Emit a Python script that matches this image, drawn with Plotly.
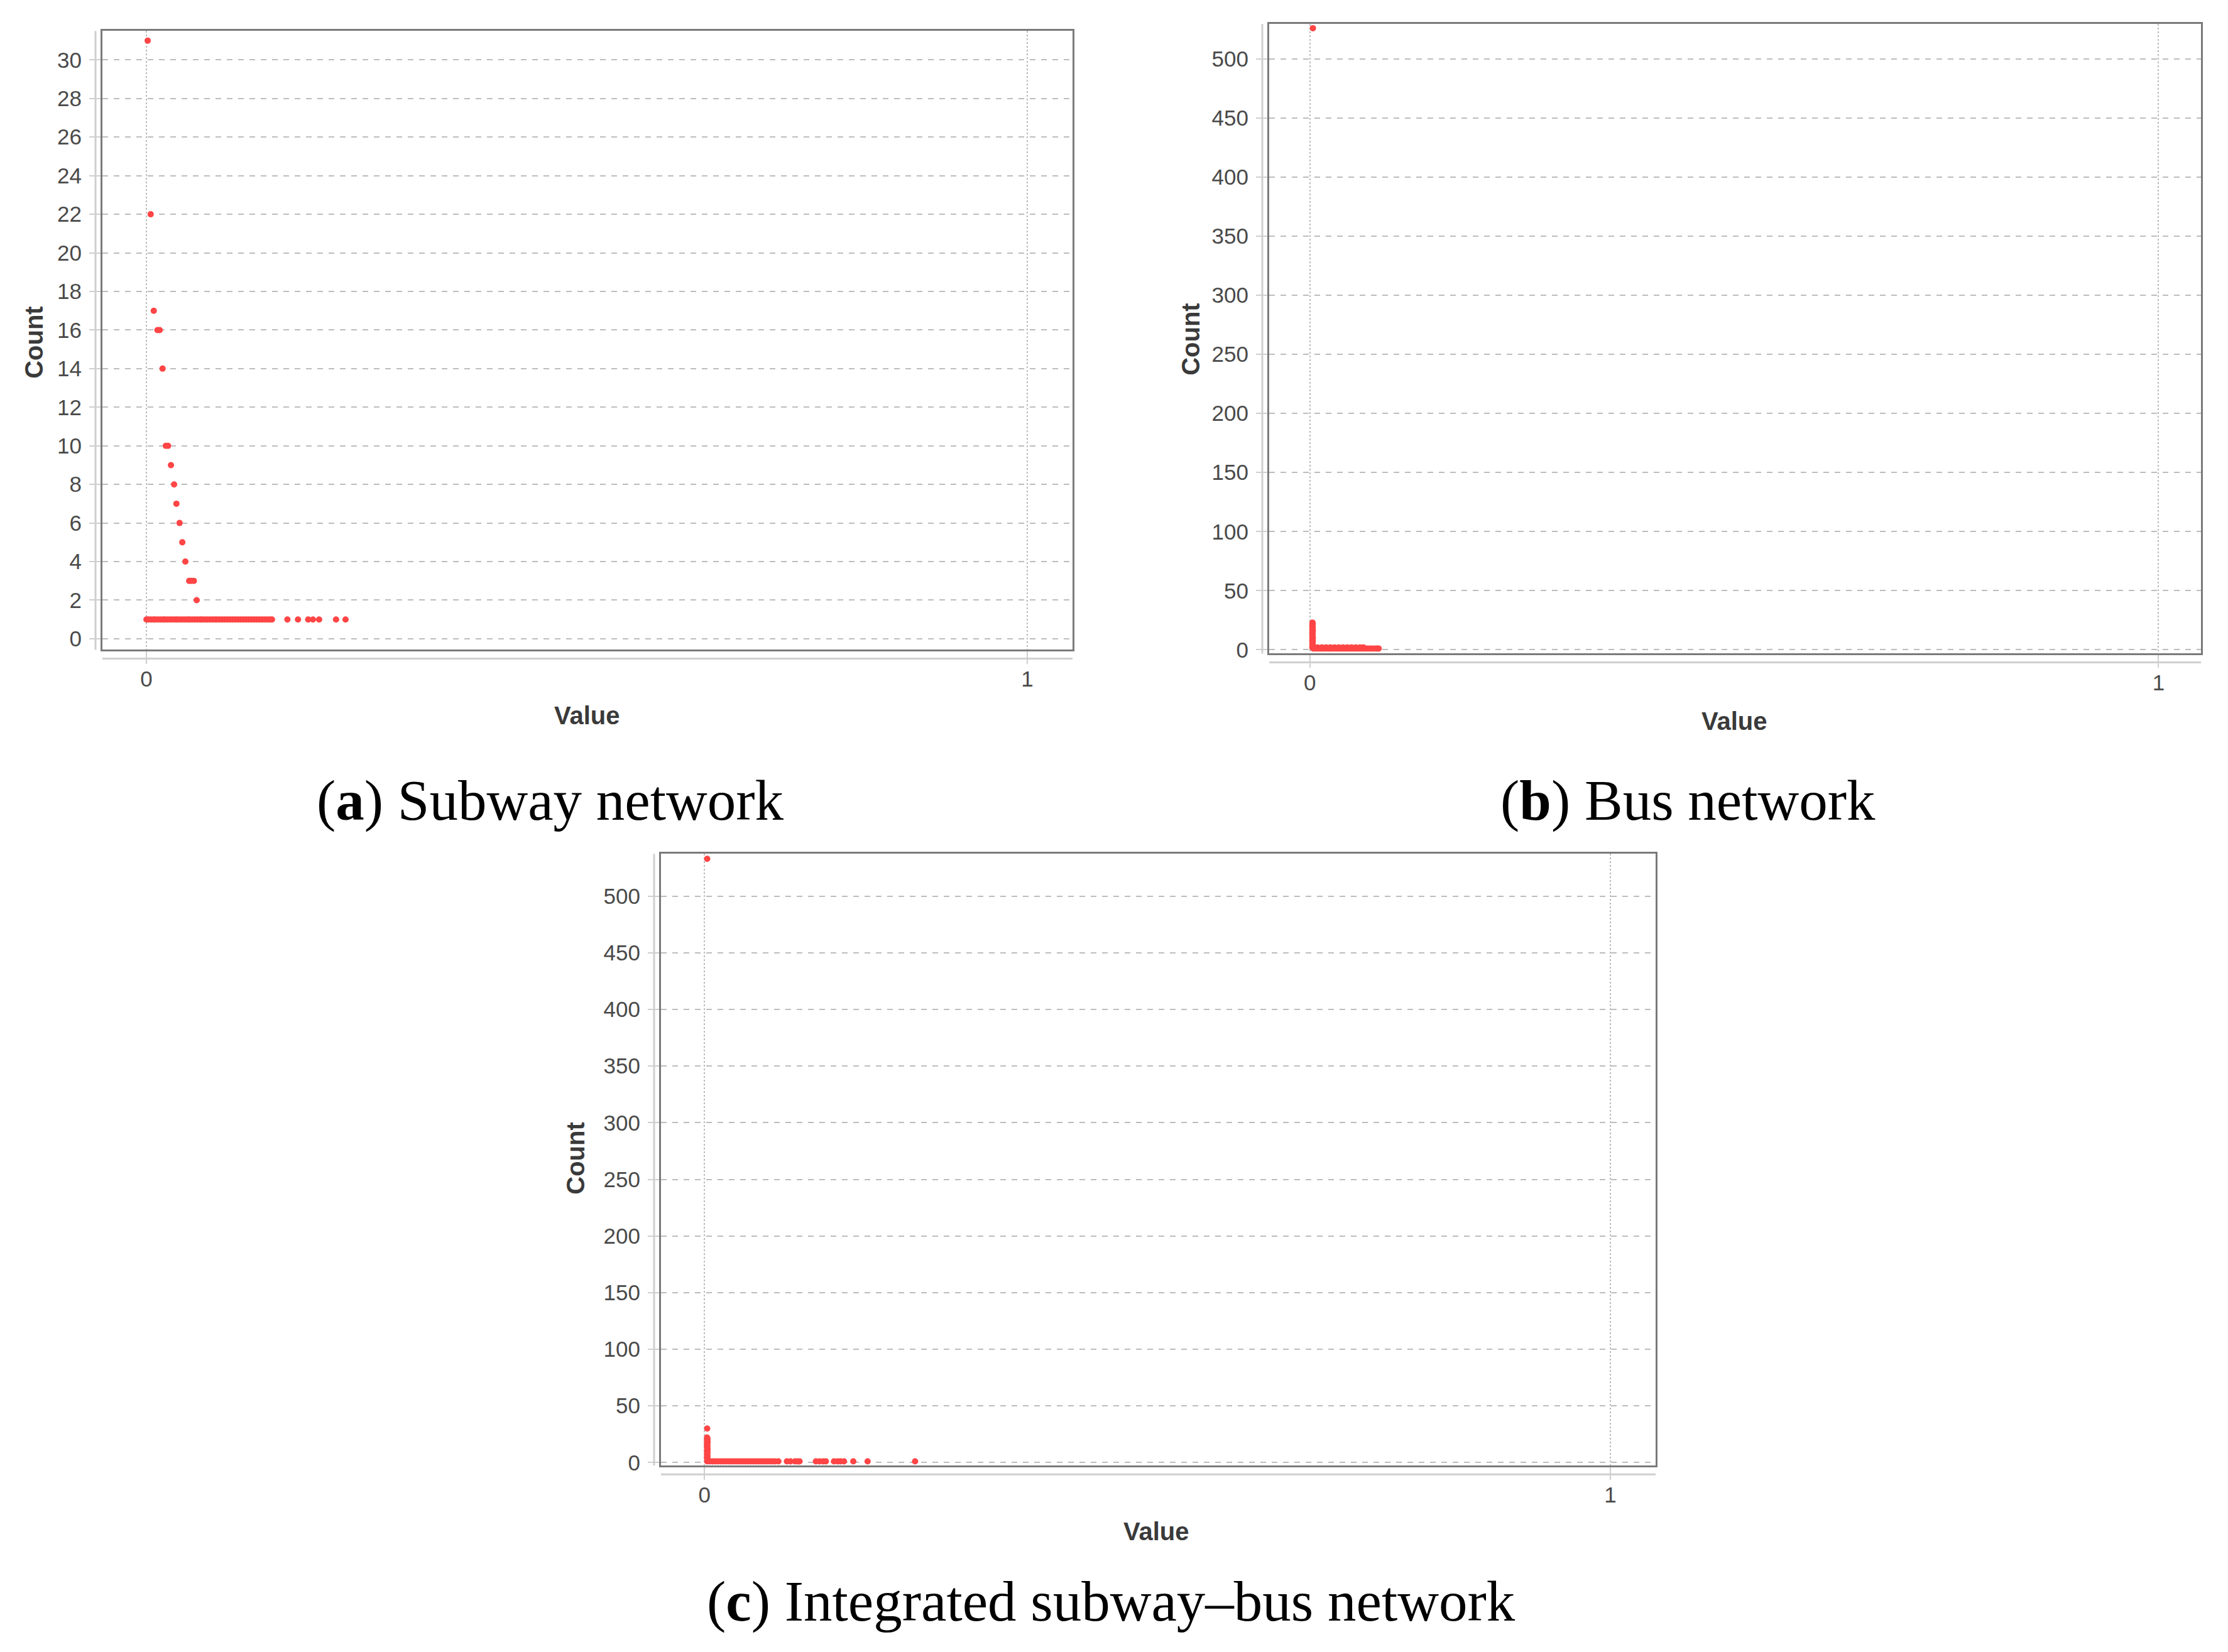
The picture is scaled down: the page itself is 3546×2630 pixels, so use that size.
import plotly.graph_objects as go

# the page body has an 8px margin; draw the figure 8px smaller and shift coordinates
OFF = 8
W, H = 3546 - OFF, 2630 - OFF

# ---------------- data ----------------
# (a) Subway network
subway_value = [0.0014, 0.0048, 0.0083, 0.0125, 0.0150, 0.0183, 0.0220, 0.0245,
                0.0278, 0.0314, 0.0340, 0.0376, 0.0407, 0.0442, 0.0485, 0.0510,
                0.0538, 0.0570]
subway_count = [31, 22, 17, 16, 16, 14, 10, 10, 9, 8, 7, 6, 5, 4, 3, 3, 3, 2]
subway_value_one = [0.000, 0.002, 0.005, 0.008, 0.010, 0.013, 0.016, 0.019, 0.021,
                    0.024, 0.027, 0.030, 0.033, 0.035, 0.038, 0.041, 0.044, 0.047,
                    0.049, 0.052, 0.055, 0.058, 0.061, 0.063, 0.066, 0.069, 0.072,
                    0.075, 0.078, 0.080, 0.083, 0.086, 0.089, 0.092, 0.095, 0.098,
                    0.101, 0.104, 0.107, 0.110, 0.113, 0.116, 0.119, 0.122, 0.125,
                    0.128, 0.131, 0.134, 0.137, 0.140, 0.1425, 0.160, 0.172, 0.1836,
                    0.189, 0.196, 0.2152, 0.226]

# (b) Bus network
bus_value = [0.0035, 0.0030, 0.0033, 0.0030, 0.0028, 0.0033, 0.0030, 0.0029, 0.0034,
             0.0030, 0.0028, 0.0032, 0.0030, 0.0029, 0.0034, 0.0031, 0.0028, 0.0033,
             0.0030, 0.0029, 0.0032, 0.0030, 0.0028, 0.0034]
bus_count = [526, 23, 22, 21, 20, 19, 18, 17, 16, 15, 14, 13, 12, 11, 10, 9, 8, 7, 6,
             5, 4, 3, 2, 2]
bus_value_one = [0.004, 0.007, 0.010, 0.013, 0.016, 0.019, 0.022, 0.025, 0.028, 0.031,
                 0.034, 0.037, 0.040, 0.043, 0.046, 0.049, 0.052, 0.055, 0.058, 0.061,
                 0.064, 0.067, 0.070, 0.073, 0.0765, 0.079, 0.081]
bus_value_two = [0.005, 0.009, 0.014, 0.019, 0.024, 0.029, 0.034, 0.039, 0.044, 0.049,
                 0.054, 0.059, 0.063]

# (c) Integrated subway-bus network
integ_value = [0.0030, 0.0030, 0.0028, 0.0033, 0.0030, 0.0029, 0.0034, 0.0030, 0.0028,
               0.0032, 0.0030, 0.0029, 0.0034, 0.0031, 0.0028, 0.0033, 0.0030, 0.0029,
               0.0032, 0.0030, 0.0028, 0.0034, 0.0031]
integ_count = [533, 30, 22, 21, 20, 19, 18, 17, 16, 15, 14, 13, 12, 11, 10, 9, 8, 7, 6,
               5, 4, 3, 2]
integ_value_one = [0.003, 0.006, 0.009, 0.012, 0.015, 0.018, 0.021, 0.024, 0.027,
                   0.030, 0.033, 0.036, 0.039, 0.042, 0.045, 0.048, 0.051, 0.054,
                   0.057, 0.060, 0.063, 0.066, 0.069, 0.072, 0.075, 0.078, 0.0816,
                   0.091, 0.095, 0.100, 0.103, 0.105, 0.123, 0.127, 0.131, 0.134,
                   0.143, 0.147, 0.150, 0.154, 0.1643, 0.1801, 0.2325]

x_ticks = [0, 1]
x_tick_text = ["0", "1"]
ya_ticks = list(range(0, 31, 2))
yb_ticks = list(range(0, 501, 50))

captions = ["(<b>a</b>) Subway network", "(<b>b</b>) Bus network",
            "(<b>c</b>) Integrated subway\u2013bus network"]

# ---------------- styling ----------------
RED = "#ff4545"
FRAME = "#7a7a7a"
AXLINE = "#cfcfcf"
GRID = "#bdbdbd"
TICKFONT = dict(family="Liberation Sans", size=35, color="#4a4a4a")
TITLEFONT = dict(family="Liberation Sans", size=40, color="#3a3a3a")
CAPFONT = dict(family="Liberation Serif", size=91, color="#000000")

# panel frames in page pixels: left, right, top, bottom
frames = {
    "a": (163, 1707, 47, 1033),
    "b": (2020, 3503, 36, 1039),
    "c": (1052, 2635, 1358, 2333),
}

def px_x(x):
    return x - OFF

def px_y(y):
    # small empirical vertical correction
    return y - OFF + 2.3 + 0.0045 * y

def dom(fr):
    l, r, t, b = fr
    l, r = px_x(l), px_x(r)
    t, b = px_y(t), px_y(b)
    return [l / W, r / W], [1 - b / H, 1 - t / H]

fig = go.Figure()

def add_pts(xs, ys, ax):
    fig.add_trace(go.Scatter(x=xs, y=ys, mode="markers", xaxis="x" + ax, yaxis="y" + ax,
                             marker=dict(color=RED, size=10, line=dict(width=0)),
                             showlegend=False, hoverinfo="skip"))

add_pts(subway_value, subway_count, "")
add_pts(subway_value_one, [1] * len(subway_value_one), "")
add_pts(bus_value, bus_count, "2")
add_pts(bus_value_one, [1] * len(bus_value_one), "2")
add_pts(bus_value_two, [2] * len(bus_value_two), "2")
add_pts(integ_value, integ_count, "3")
add_pts(integ_value_one, [1] * len(integ_value_one), "3")

def xaxis(fr, anchor, rng):
    d, _ = dom(fr)
    return dict(domain=d, anchor=anchor, range=rng, tickvals=x_ticks, ticktext=x_tick_text,
                showline=True, mirror=True, linecolor=FRAME, linewidth=3,
                showgrid=True, gridcolor=GRID, gridwidth=2, griddash="dot",
                zeroline=False, ticks="outside", ticklen=20, tickcolor=AXLINE, tickwidth=2,
                tickfont=TICKFONT, ticklabelstandoff=-6)

def yaxis(fr, anchor, rng, tv):
    _, d = dom(fr)
    return dict(domain=d, anchor=anchor, range=rng, tickvals=tv,
                showline=True, mirror=True, linecolor=FRAME, linewidth=3,
                showgrid=True, gridcolor=GRID, gridwidth=2, griddash="dash",
                zeroline=False, ticks="outside", ticklen=18, tickcolor=AXLINE, tickwidth=2,
                tickfont=TICKFONT, ticklabelstandoff=5)

layout = dict(
    width=W, height=H, margin=dict(l=0, r=0, t=0, b=0),
    paper_bgcolor="white", plot_bgcolor="white", showlegend=False,
    xaxis=xaxis(frames["a"], "y", [-0.05, 1.0513]),
    yaxis=yaxis(frames["a"], "x", [-0.57, 31.5], ya_ticks),
    xaxis2=xaxis(frames["b"], "y2", [-0.048, 1.05]),
    yaxis2=yaxis(frames["b"], "x2", [-3.2, 529.5], yb_ticks),
    xaxis3=xaxis(frames["c"], "y3", [-0.048, 1.05]),
    yaxis3=yaxis(frames["c"], "x3", [-2.8, 537.5], yb_ticks),
)
fig.update_layout(**layout)

# offset axis lines (JFreeChart-style) drawn as shapes relative to each plot area
shapes = []
for key, ax in (("a", ""), ("b", "2"), ("c", "3")):
    l, r, t, b = frames[key]
    w, h = r - l, b - t
    dy = 14 / h
    dx = 11 / w
    shapes.append(dict(type="line", xref="x%s domain" % ax, yref="y%s domain" % ax,
                       x0=0, x1=1, y0=-dy, y1=-dy, line=dict(color=AXLINE, width=3)))
    shapes.append(dict(type="line", xref="x%s domain" % ax, yref="y%s domain" % ax,
                       x0=-dx, x1=-dx, y0=0, y1=1, line=dict(color=AXLINE, width=3)))
fig.update_layout(shapes=shapes)

# axis titles and captions
ann = []
def A(text, px, py, font, angle=0):
    ann.append(dict(text=text, x=px_x(px) / W, y=1 - px_y(py) / H,
                    xref="paper", yref="paper",
                    showarrow=False, font=font, textangle=angle,
                    xanchor="center", yanchor="middle"))

bold_title = lambda s: "<b>%s</b>" % s
A(bold_title("Count"), 54, 543, TITLEFONT, -90)
A(bold_title("Value"), 934, 1138, TITLEFONT)
A(bold_title("Count"), 1895, 538, TITLEFONT, -90)
A(bold_title("Value"), 2760, 1147, TITLEFONT)
A(bold_title("Count"), 916, 1843, TITLEFONT, -90)
A(bold_title("Value"), 1840, 2438, TITLEFONT)
A(captions[0], 876, 1273, CAPFONT)
A(captions[1], 2686, 1273, CAPFONT)
A(captions[2], 1768, 2549, CAPFONT)
fig.update_layout(annotations=ann)

fig.write_html("out.html")
